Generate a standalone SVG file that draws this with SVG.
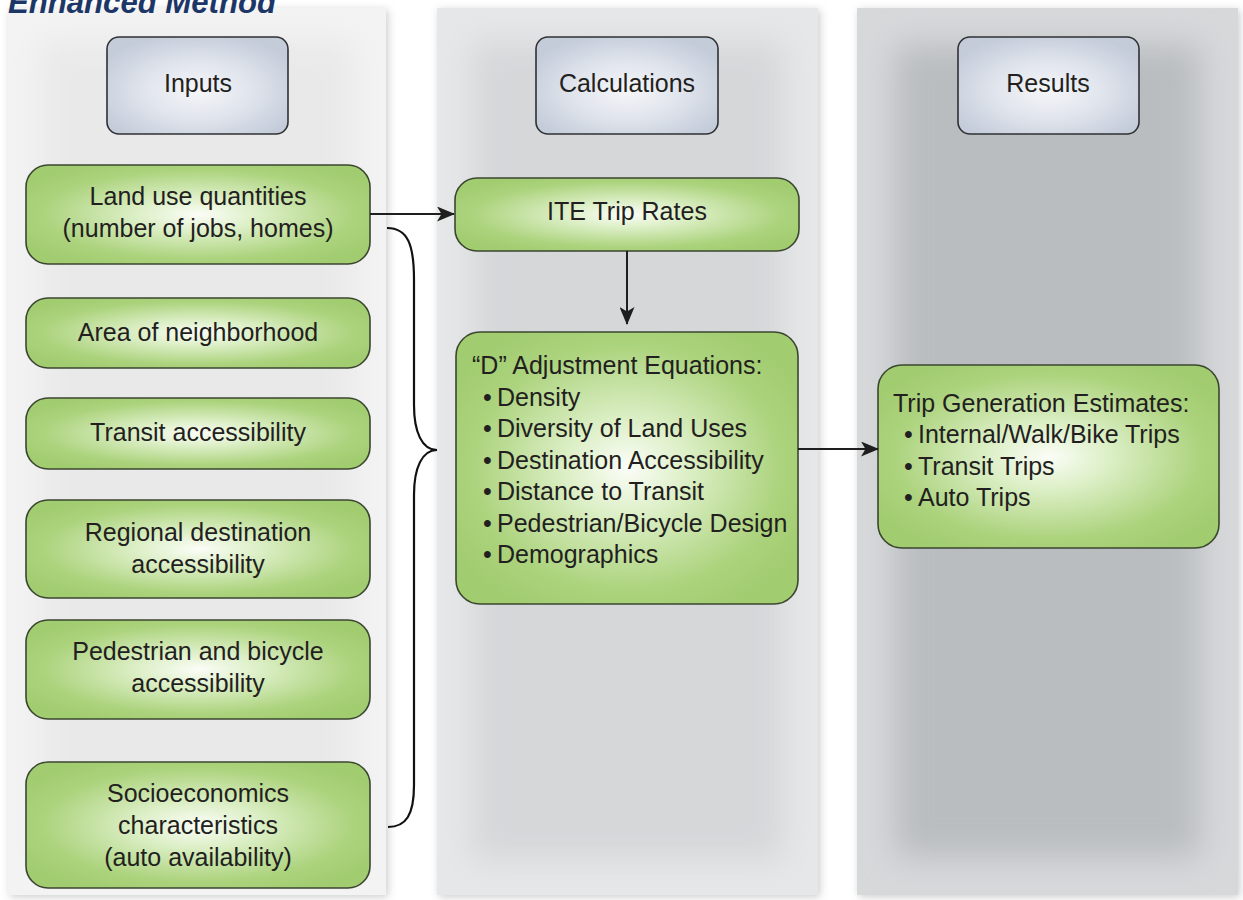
<svg xmlns="http://www.w3.org/2000/svg" width="1243" height="900" viewBox="0 0 1243 900">
  <defs>
    <style>
      .lbl { font-family: "Liberation Sans", Arial, sans-serif; font-size: 25px; fill: #231f20; }
      .ctr { text-anchor: middle; }
      .title { font-family: "Liberation Sans", Arial, sans-serif; font-size: 31px; font-weight: bold; font-style: italic; fill: #1c3767; }
      .green { fill: url(#gGreen); stroke: #3b4630; stroke-width: 1.6; }
      .head { fill: url(#gHead); stroke: #2f3033; stroke-width: 1.6; }
      .conn { fill: none; stroke: #1e1e1e; stroke-width: 2; }
      .brace { fill: none; stroke: #111; stroke-width: 2.2; }
    </style>
    <radialGradient id="gGreen" cx="50%" cy="50%" r="60%">
      <stop offset="0" stop-color="#fbfdf7"/>
      <stop offset="0.3" stop-color="#dcefc6"/>
      <stop offset="0.75" stop-color="#acd37d"/>
      <stop offset="1" stop-color="#a1cc6f"/>
    </radialGradient>
    <radialGradient id="gHead" cx="50%" cy="55%" r="60%">
      <stop offset="0" stop-color="#f5f6f9"/>
      <stop offset="0.5" stop-color="#e0e4ec"/>
      <stop offset="1" stop-color="#c4ccda"/>
    </radialGradient>
    <filter id="glow" x="-30%" y="-30%" width="160%" height="160%">
      <feGaussianBlur stdDeviation="16"/>
    </filter>
    <filter id="shadow" x="-10%" y="-10%" width="120%" height="120%">
      <feGaussianBlur stdDeviation="4"/>
    </filter>
    <clipPath id="c1"><rect x="8" y="8" width="378" height="887"/></clipPath>
    <clipPath id="c2"><rect x="437" y="8" width="381" height="887"/></clipPath>
    <clipPath id="c3"><rect x="857" y="8" width="381" height="887"/></clipPath>
    <marker id="arrow" viewBox="0 0 18 15" refX="17" refY="7.5" markerWidth="18" markerHeight="15" markerUnits="userSpaceOnUse" orient="auto">
      <path d="M0,0 L18,7.5 L0,15 L4.5,7.5 Z" fill="#1e1e1e"/>
    </marker>
  </defs>

  <rect width="1243" height="900" fill="#ffffff"/>

  <!-- column panels -->
  <g id="panels">
    <rect x="10" y="10" width="378" height="887" fill="#8d8f92" opacity="0.45" filter="url(#shadow)"/>
    <rect x="439" y="10" width="381" height="887" fill="#8d8f92" opacity="0.45" filter="url(#shadow)"/>
    <rect x="859" y="10" width="381" height="887" fill="#8d8f92" opacity="0.45" filter="url(#shadow)"/>

    <rect x="8" y="8" width="378" height="887" fill="#f3f3f3"/>
    <g clip-path="url(#c1)"><rect x="40" y="40" width="314" height="820" fill="#e9e9ea" filter="url(#glow)"/></g>

    <rect x="437" y="8" width="381" height="887" fill="#e6e7e8"/>
    <g clip-path="url(#c2)"><rect x="472" y="42" width="311" height="818" fill="#d6d7d9" filter="url(#glow)"/></g>

    <rect x="857" y="8" width="381" height="887" fill="#d6d8da"/>
    <g clip-path="url(#c3)"><rect x="895" y="45" width="305" height="812" fill="#babdc0" filter="url(#glow)"/></g>
  </g>

  <text class="title" x="8" y="13" textLength="268" lengthAdjust="spacingAndGlyphs">Enhanced Method</text>

  <!-- column headers -->
  <g id="hdr-inputs">
    <rect class="head" x="107" y="37" width="181" height="97" rx="12"/>
    <text class="lbl ctr" x="198" y="92">Inputs</text>
  </g>
  <g id="hdr-calculations">
    <rect class="head" x="536" y="37" width="182" height="97" rx="12"/>
    <text class="lbl ctr" x="627" y="92">Calculations</text>
  </g>
  <g id="hdr-results">
    <rect class="head" x="958" y="37" width="181" height="97" rx="12"/>
    <text class="lbl ctr" x="1048" y="92">Results</text>
  </g>

  <!-- input nodes -->
  <g id="n-landuse">
    <rect class="green" x="26" y="165" width="344" height="99" rx="22"/>
    <text class="lbl ctr" x="198" y="205">Land use quantities</text>
    <text class="lbl ctr" x="198" y="237">(number of jobs, homes)</text>
  </g>
  <g id="n-area">
    <rect class="green" x="26" y="298" width="344" height="70" rx="22"/>
    <text class="lbl ctr" x="198" y="341">Area of neighborhood</text>
  </g>
  <g id="n-transit">
    <rect class="green" x="26" y="398" width="344" height="71" rx="22"/>
    <text class="lbl ctr" x="198" y="441">Transit accessibility</text>
  </g>
  <g id="n-regional">
    <rect class="green" x="26" y="500" width="344" height="98" rx="22"/>
    <text class="lbl ctr" x="198" y="541">Regional destination</text>
    <text class="lbl ctr" x="198" y="573">accessibility</text>
  </g>
  <g id="n-pedbike">
    <rect class="green" x="26" y="620" width="344" height="99" rx="22"/>
    <text class="lbl ctr" x="198" y="660">Pedestrian and bicycle</text>
    <text class="lbl ctr" x="198" y="692">accessibility</text>
  </g>
  <g id="n-socio">
    <rect class="green" x="26" y="762" width="344" height="126" rx="22"/>
    <text class="lbl ctr" x="198" y="802">Socioeconomics</text>
    <text class="lbl ctr" x="198" y="834">characteristics</text>
    <text class="lbl ctr" x="198" y="866">(auto availability)</text>
  </g>

  <!-- calculation nodes -->
  <g id="n-ite">
    <rect class="green" x="455" y="178" width="344" height="73" rx="22"/>
    <text class="lbl ctr" x="627" y="220">ITE Trip Rates</text>
  </g>
  <g id="n-dadjust">
    <rect class="green" x="456" y="332" width="342" height="272" rx="24"/>
    <text class="lbl" x="472" y="374">“D” Adjustment Equations:</text>
    <text class="lbl" x="483" y="405.5">•</text><text class="lbl" x="497" y="405.5">Density</text>
    <text class="lbl" x="483" y="437">•</text><text class="lbl" x="497" y="437">Diversity of Land Uses</text>
    <text class="lbl" x="483" y="468.5">•</text><text class="lbl" x="497" y="468.5">Destination Accessibility</text>
    <text class="lbl" x="483" y="500">•</text><text class="lbl" x="497" y="500">Distance to Transit</text>
    <text class="lbl" x="483" y="531.5">•</text><text class="lbl" x="497" y="531.5">Pedestrian/Bicycle Design</text>
    <text class="lbl" x="483" y="563">•</text><text class="lbl" x="497" y="563">Demographics</text>
  </g>

  <!-- result node -->
  <g id="n-tripgen">
    <rect class="green" x="878" y="365" width="341" height="183" rx="24"/>
    <text class="lbl" x="893" y="412">Trip Generation Estimates:</text>
    <text class="lbl" x="904" y="443">•</text><text class="lbl" x="918" y="443">Internal/Walk/Bike Trips</text>
    <text class="lbl" x="904" y="475">•</text><text class="lbl" x="918" y="475">Transit Trips</text>
    <text class="lbl" x="904" y="506">•</text><text class="lbl" x="918" y="506">Auto Trips</text>
  </g>

  <!-- connectors -->
  <g id="connectors">
    <line class="conn" x1="370" y1="214" x2="454" y2="214" marker-end="url(#arrow)"/>
    <line class="conn" x1="627" y1="251" x2="627" y2="324" marker-end="url(#arrow)"/>
    <line class="conn" x1="798" y1="449" x2="878" y2="449" marker-end="url(#arrow)"/>
    <path class="brace" d="M387,228 C408,228 414,245 414,280 L414,405 C414,432 422,450 437,450 C422,450 414,468 414,495 L414,785 C414,815 406,827 388,827"/>
  </g>
</svg>
